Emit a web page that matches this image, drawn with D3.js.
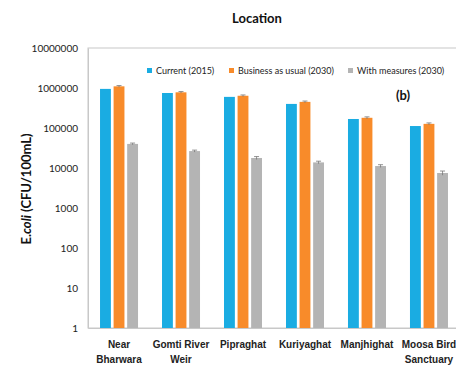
<!DOCTYPE html>
<html>
<head>
<meta charset="utf-8">
<script src="https://cdn.jsdelivr.net/npm/d3@7"></script>
<style>
  html, body { margin: 0; padding: 0; background: #fff; }
  svg { display: block; font-family: Lato, "Open Sans", sans-serif; }
</style>
</head>
<body>
<svg id="chart" width="456" height="367"></svg>
<script>
// Sampling locations along the river
const locations = [
  ["Near", "Bharwara"],
  ["Gomti River", "Weir"],
  ["Pipraghat"],
  ["Kuriyaghat"],
  ["Manjhighat"],
  ["Moosa Bird", "Sanctuary"]
];
const seriesNames = ["Current (2015)", "Business as usual (2030)", "With measures (2030)"];
const seriesColors = ["#1aace2", "#f88b2a", "#b4b4b4"];

// E. coli counts (CFU/100mL) per scenario
const current2015   = [950000, 750000, 600000, 400000, 168000, 112000];
const businessUsual = [1100000, 780000, 640000, 450000, 180000, 127000];
const withMeasures  = [40000, 26500, 17800, 13800, 11200, 7500];

// Error bar half-widths
const errCurrent  = [0, 0, 0, 0, 0, 0];
const errBusiness = [50000, 35000, 30000, 22000, 10000, 7000];
const errMeasures = [2000, 1500, 1500, 1000, 900, 900];

const yTicks = [1, 10, 100, 1000, 10000, 100000, 1000000, 10000000];

const values = [current2015, businessUsual, withMeasures];
const errors = [errCurrent, errBusiness, errMeasures];

const svg = d3.select("#chart");
const plotLeft = 88, plotTop = 48, plotBottom = 328, plotRight = 460;

const keys = locations.map(d => d.join(" "));
const x0 = d3.scaleBand().domain(keys).range([plotLeft, plotRight])
  .paddingInner(0.387).paddingOuter(0.194);
const x1 = d3.scaleBand().domain(d3.range(3)).range([0, x0.bandwidth()]).paddingInner(0.2);
const y = d3.scaleLog().domain([1, 1e7]).range([plotBottom, plotTop]);

// Plot frame
svg.append("rect")
  .attr("x", plotLeft).attr("y", plotTop)
  .attr("width", plotRight - plotLeft).attr("height", plotBottom - plotTop)
  .attr("fill", "none").attr("stroke", "#c8c8c8").attr("stroke-width", 1);

// Y axis
const yAxis = svg.append("g")
  .attr("transform", `translate(${plotLeft},0)`)
  .call(d3.axisLeft(y).tickValues(yTicks).tickFormat(d3.format("d")).tickSize(0).tickPadding(10));
yAxis.select(".domain").attr("stroke", "#c8c8c8");
yAxis.selectAll("text").attr("font-size", 10).attr("fill", "#222")
  .attr("font-family", "Lato, sans-serif");

// X axis with two-line labels
const xAxis = svg.append("g").attr("transform", `translate(0,${plotBottom})`)
  .call(d3.axisBottom(x0).tickSize(0).tickFormat(""));
xAxis.select(".domain").attr("stroke", "#c8c8c8");
xAxis.selectAll(".tick").each(function(d, i) {
  const t = d3.select(this).append("text")
    .attr("text-anchor", "middle").attr("font-size", 10)
    .attr("font-weight", 600).attr("fill", "#222");
  locations[i].forEach((line, k) => {
    t.append("tspan").attr("x", 0).attr("y", 20 + k * 14.5).text(line);
  });
});

// Bars
const groups = svg.append("g").selectAll("g").data(keys).join("g")
  .attr("transform", d => `translate(${x0(d)},0)`);
groups.each(function(key, i) {
  const g = d3.select(this);
  values.forEach((vals, s) => {
    g.append("rect")
      .attr("x", x1(s)).attr("width", x1.bandwidth())
      .attr("y", y(vals[i])).attr("height", plotBottom - y(vals[i]))
      .attr("fill", seriesColors[s]);
    const e = errors[s][i];
    if (e > 0) {
      const cx = x1(s) + x1.bandwidth() / 2;
      const yHi = y(vals[i] + e), yLo = y(vals[i] - e);
      g.append("line").attr("x1", cx).attr("x2", cx).attr("y1", yHi).attr("y2", yLo)
        .attr("stroke", "#777").attr("stroke-width", 0.8);
      g.append("line").attr("x1", cx - 2.5).attr("x2", cx + 2.5).attr("y1", yHi).attr("y2", yHi)
        .attr("stroke", "#777").attr("stroke-width", 0.8);
    }
  });
});

// Legend
const legendX = [147, 229, 348];
const legend = svg.append("g");
seriesNames.forEach((name, s) => {
  legend.append("rect").attr("x", legendX[s]).attr("y", 68)
    .attr("width", 5).attr("height", 5).attr("fill", seriesColors[s]);
  legend.append("text").attr("x", legendX[s] + 9).attr("y", 74)
    .attr("font-size", 9).attr("fill", "#222").text(name);
});

// Panel tag
svg.append("text").attr("x", 403).attr("y", 100).attr("text-anchor", "middle")
  .attr("font-size", 13).attr("font-weight", 700).attr("fill", "#111").text("(b)");

// Title
svg.append("text").attr("x", 257).attr("y", 23).attr("text-anchor", "middle")
  .attr("font-size", 13).attr("font-weight", 700).attr("fill", "#111").text("Location");

// Y axis title
const yt = svg.append("text")
  .attr("transform", "translate(31,189) rotate(-90)")
  .attr("text-anchor", "middle").attr("font-size", 13).attr("font-weight", 700).attr("fill", "#111");
yt.append("tspan").text("E.");
yt.append("tspan").attr("font-style", "italic").text("coli");
yt.append("tspan").text(" (CFU/100mL)");
</script>
</body>
</html>
